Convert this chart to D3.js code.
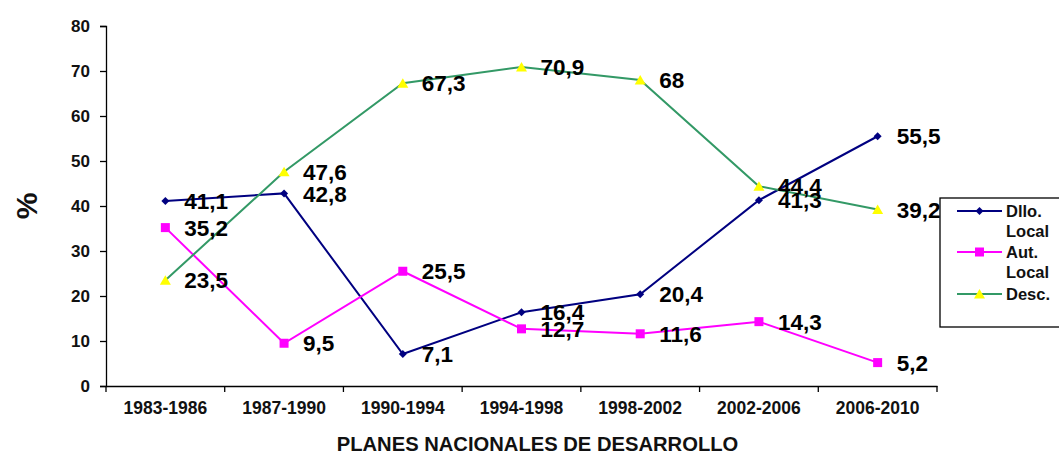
<!DOCTYPE html>
<html>
<head>
<meta charset="utf-8">
<script src="https://cdn.jsdelivr.net/npm/d3@7"></script>
<style>
body{margin:0;background:#fff;}
text{font-family:"Liberation Sans",Arial,sans-serif;}
</style>
</head>
<body>
<svg id="c" width="1059" height="456"></svg>
<script>
const categories = ["1983-1986","1987-1990","1990-1994","1994-1998","1998-2002","2002-2006","2006-2010"];
const dlloLocal = [41.1, 42.8, 7.1, 16.4, 20.4, 41.3, 55.5];
const autLocal  = [35.2, 9.5, 25.5, 12.7, 11.6, 14.3, 5.2];
const desc      = [23.5, 47.6, 67.3, 70.9, 68, 44.4, 39.2];
const yTicks = [0,10,20,30,40,50,60,70,80];
const seriesNames = ["Dllo. Local","Aut. Local","Desc."];

const series = [
  {name: seriesNames[0], values: dlloLocal, color: "#000080", marker: "diamond", fill:"#000080"},
  {name: seriesNames[1], values: autLocal,  color: "#FF00FF", marker: "square", fill:"#FF00FF"},
  {name: seriesNames[2], values: desc,      color: "#339966", marker: "triangle", fill:"#FFFF00"}
];

const svg = d3.select("#c");
const mLeft = 106, mRight = 937, mTop = 26, mBottom = 386;
const x = d3.scaleBand().domain(categories).range([mLeft, mRight]);
const y = d3.scaleLinear().domain([0, 80]).range([mBottom, mTop]);

// axes
const yAxis = svg.append("g").attr("transform", `translate(${mLeft},0)`)
  .call(d3.axisLeft(y).tickValues(yTicks).tickSize(6).tickPadding(10));
yAxis.selectAll("text").attr("font-size", 17).attr("font-weight", "bold").attr("fill", "#111");
yAxis.select(".domain").attr("stroke", "#000").attr("stroke-width", 1.3);
yAxis.selectAll(".tick line").attr("stroke", "#000").attr("stroke-width", 1.3);

const xAxis = svg.append("g").attr("transform", `translate(0,${mBottom})`)
  .call(d3.axisBottom(x).tickSize(0).tickPadding(16));
xAxis.selectAll("text").attr("font-size", 17.5).attr("font-weight", "bold").attr("fill", "#111");
xAxis.select(".domain").attr("stroke", "#000").attr("stroke-width", 1.3);
// boundary ticks
const bounds = categories.map(c => x(c)).concat([mRight]);
xAxis.selectAll(".btick").data(bounds).enter().append("line")
  .attr("x1", d => d).attr("x2", d => d).attr("y1", 0).attr("y2", 6)
  .attr("stroke", "#000").attr("stroke-width", 1.3);

// titles
svg.append("text").attr("x", (mLeft + mRight) / 2 + 16).attr("y", 451)
  .attr("text-anchor", "middle").attr("font-size", 20.2).attr("font-weight", "bold").attr("fill", "#111")
  .text("PLANES NACIONALES DE DESARROLLO");
svg.append("text").attr("transform", "translate(37,206) rotate(-90)")
  .attr("text-anchor", "middle").attr("font-size", 30).attr("font-weight", "bold").attr("fill", "#111")
  .text("%");

const cx = c => x(c) + x.bandwidth() / 2;

function drawMarker(g, type, fill, px, py) {
  if (type === "diamond") {
    g.append("path").attr("d", `M${px},${py-4}L${px+4},${py}L${px},${py+4}L${px-4},${py}Z`).attr("fill", fill);
  } else if (type === "square") {
    g.append("rect").attr("x", px-4.5).attr("y", py-4.5).attr("width", 9).attr("height", 9).attr("fill", fill);
  } else {
    g.append("path").attr("d", `M${px},${py-5}L${px+5.5},${py+4.5}L${px-5.5},${py+4.5}Z`).attr("fill", fill);
  }
}

const line = d3.line().x((d, i) => cx(categories[i])).y(d => y(d));
series.forEach(s => {
  svg.append("path").datum(s.values).attr("d", line).attr("fill", "none")
    .attr("stroke", s.color).attr("stroke-width", 2);
});
series.forEach(s => {
  const g = svg.append("g");
  s.values.forEach((v, i) => drawMarker(g, s.marker, s.fill, cx(categories[i]), y(v)));
});
series.forEach(s => {
  svg.append("g").selectAll("text").data(s.values).enter().append("text")
    .attr("x", (d, i) => cx(categories[i]) + 19).attr("y", d => y(d))
    .attr("dy", "0.36em").attr("font-size", 22.5).attr("font-weight", "bold").attr("fill", "#000")
    .text(d => String(d).replace(".", ","));
});

// legend
const lg = svg.append("g");
lg.append("rect").attr("x", 940).attr("y", 198).attr("width", 130).attr("height", 129)
  .attr("fill", "#fff").attr("stroke", "#000").attr("stroke-width", 1.3);
const legendRows = [
  {s: series[0], lines: ["Dllo.", "Local"], y: 211},
  {s: series[1], lines: ["Aut.", "Local"], y: 252},
  {s: series[2], lines: ["Desc."], y: 294}
];
legendRows.forEach(r => {
  lg.append("line").attr("x1", 957).attr("x2", 1002).attr("y1", r.y).attr("y2", r.y)
    .attr("stroke", r.s.color).attr("stroke-width", 2);
  drawMarker(lg, r.s.marker, r.s.fill, 979.5, r.y);
  r.lines.forEach((t, k) => {
    lg.append("text").attr("x", 1006).attr("y", r.y + k * 20.5).attr("dy", "0.36em")
      .attr("font-size", 16.5).attr("font-weight", "bold").attr("fill", "#111").text(t);
  });
});
</script>
</body>
</html>
